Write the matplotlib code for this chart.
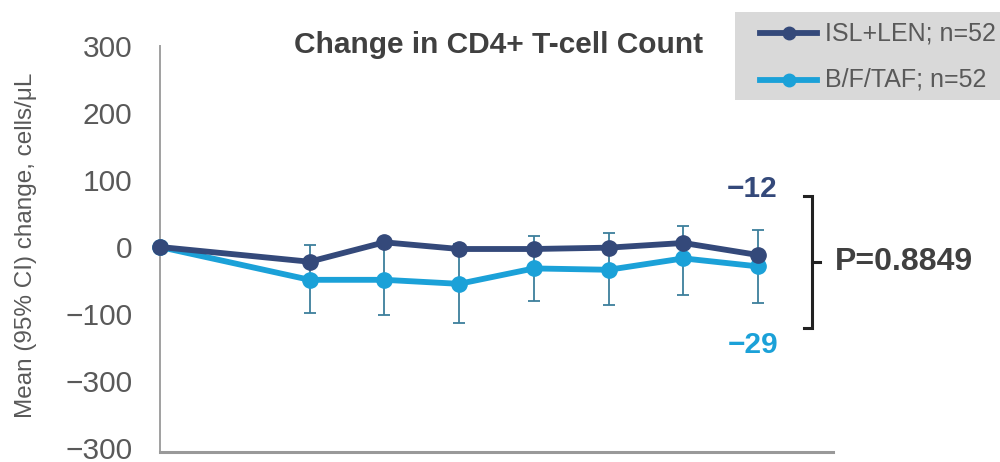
import numpy as np
import matplotlib
matplotlib.use("Agg")
import matplotlib.pyplot as plt
from matplotlib.lines import Line2D
from matplotlib.patches import Rectangle

plt.rcParams['font.family'] = ['Liberation Sans', 'DejaVu Sans']

# visit weeks and mean change from baseline (cells/uL)
weeks = [0, 8, 12, 16, 20, 24, 28, 32]
isl_len = [0, -22, 7, -3, -3, -1, 6, -12]
bf_taf = [0, -49, -49, -55, -32, -34, -17, -29]
# 95% CI limits for B/F/TAF
bf_taf_lo = [0, -99, -102, -114, -80, -86, -71, -83]
bf_taf_hi = [0, 3, 5, 4, 16, 21, 32, 25]

y_ticks = [300, 200, 100, 0, -100, -200, -300]
y_tick_labels = ['300', '200', '100', '0', '\u2212100', '\u2212300', '\u2212300']

series_labels = ['ISL+LEN; n=52', 'B/F/TAF; n=52']
end_labels = ['\u221212', '\u221229']
p_label = 'P=0.8849'

navy = '#34497a'
cyan = '#1ba1d8'
err_col = '#3d7f9c'
grey_txt = '#595959'

W, H = 1000, 462
fig = plt.figure(figsize=(W / 100, H / 100), dpi=100)
ax = fig.add_axes([0.16, 1 - 452 / H, 0.673, 406 / H])
ax.patch.set_visible(False)


def fx(px):
    return px / W


def fy(py):
    return 1 - py / H


bx = np.array(weeks[1:])
by = np.array(bf_taf[1:])
yerr = [by - np.array(bf_taf_lo[1:]), np.array(bf_taf_hi[1:]) - by]
ax.errorbar(bx, by, yerr=yerr, fmt='none', ecolor=err_col, elinewidth=1.3,
            capsize=4.5, capthick=1.3, zorder=2)

ax.plot(weeks, bf_taf, color=cyan, lw=4.2, marker='o', ms=11,
        zorder=3, clip_on=False)
ax.plot(weeks, isl_len, color=navy, lw=4.2, marker='o', ms=11,
        zorder=4, clip_on=False)

ax.set_xlim(0, 36)
ax.set_ylim(-306, 300)
ax.set_xticks([])
ax.set_yticks(y_ticks)
ax.set_yticklabels(y_tick_labels)
ax.tick_params(axis='y', length=0, pad=20, labelsize=21.5, labelcolor=grey_txt)
for s in ['top', 'right']:
    ax.spines[s].set_visible(False)
ax.spines['left'].set_color('#a0a0a0')
ax.spines['left'].set_linewidth(1.4)
ax.spines['bottom'].set_color('#999999')
ax.spines['bottom'].set_linewidth(2.2)

fig.text(fx(26), fy(245), 'Mean (95% CI) change, cells/\u03bcL', rotation=90,
         ha='center', va='center', fontsize=17.5, color=grey_txt)

fig.text(fx(499), fy(45), 'Change in CD4+ T-cell Count', ha='center',
         va='center', fontsize=21.5, fontweight='bold', color='#404040')

# week-32 values and the comparison bracket
ax.text(31.7, 86, end_labels[0], ha='center', va='center', fontsize=21.5,
        fontweight='bold', color=navy)
ax.text(31.7, -147, end_labels[1], ha='center', va='center', fontsize=21.5,
        fontweight='bold', color=cyan)
ax.plot([34.45, 34.9, 34.9, 34.45], [76, 76, -121, -121], color='#222222',
        lw=2.2, clip_on=False, solid_joinstyle='miter')
ax.plot([34.9, 35.3], [-23, -23], color='#222222', lw=2.2, clip_on=False)
ax.text(36.1, -23, p_label, ha='left', va='center', fontsize=23,
        fontweight='bold', color='#404040')

# legend panel
fig.add_artist(Rectangle((fx(735), fy(100)), fx(265), 88 / H,
                         transform=fig.transFigure, facecolor='#d9d9d9',
                         edgecolor='none', zorder=5))
for py, col, lab in [(33, navy, series_labels[0]), (80, cyan, series_labels[1])]:
    fig.add_artist(Line2D([fx(760), fx(817)], [fy(py), fy(py)], color=col,
                          lw=4.2, transform=fig.transFigure, zorder=6))
    fig.add_artist(Line2D([fx(788.5)], [fy(py)], color=col, marker='o', ms=9,
                          transform=fig.transFigure, zorder=7))
    fig.text(fx(825), fy(py), lab, ha='left', va='center', fontsize=18,
             color=grey_txt, zorder=8)

fig.savefig('out.png', dpi=100, facecolor='white')
